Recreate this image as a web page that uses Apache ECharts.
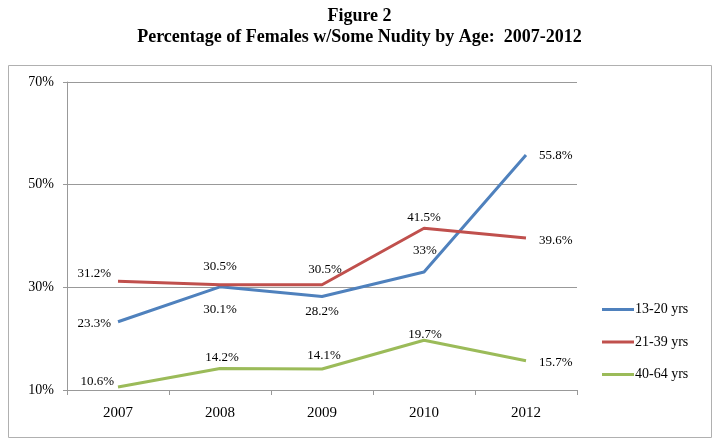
<!DOCTYPE html>
<html><head><meta charset="utf-8">
<script src="https://cdn.jsdelivr.net/npm/echarts@6/dist/echarts.min.js"></script>
<style>html,body{margin:0;padding:0;background:#fff}#c{width:719px;height:445px}</style>
</head><body><div id="c"></div>
<script>
const categories = ['2007','2008','2009','2010','2012'];
const seriesNames = ['13-20 yrs','21-39 yrs','40-64 yrs'];
const teens = [23.3, 30.1, 28.2, 33, 55.8];
const adults = [31.2, 30.5, 30.5, 41.5, 39.6];
const older = [10.6, 14.2, 14.1, 19.7, 15.7];
const yTicks = [10, 30, 50, 70];

const colors = ['#4F81BD', '#C0504D', '#9BBB59'];
// label placement per point (kept separate from data)
const placements = [
  [['left',[-2,2]],['bottom',[0,11]],['bottom',[0,4]],['top',[1,-10]],['right',[8,1]]],
  [['left',[-2,-8]],['top',[0,-7]],['top',[3,-4]],['top',[0,1]],['right',[8,3]]],
  [['left',[1,-5]],['top',[2,1]],['top',[2,-2]],['top',[1,6]],['right',[8,2]]]
];
const font = '"Liberation Serif", "Times New Roman", serif';

function build(vals, idx){
  return vals.map((v,i)=>({value:v, label:{position:placements[idx][i][0], offset:placements[idx][i][1]}}));
}
const all = [teens, adults, older];
const chart = echarts.init(document.getElementById('c'));
chart.setOption({
  animation:false,
  title:{
    text:'Figure 2',
    subtext:'Percentage of Females w/Some Nudity by Age:  2007-2012',
    left:'center', top:1, itemGap:0,
    textStyle:{fontFamily:font, fontWeight:'bold', fontSize:18, color:'#000', lineHeight:21},
    subtextStyle:{fontFamily:font, fontWeight:'bold', fontSize:18, color:'#000', lineHeight:20}
  },
  graphic:[{type:'rect', shape:{x:8.5,y:65.5,width:703,height:372}, style:{fill:'none', stroke:'#b0b0b0', lineWidth:1}, silent:true}],
  legend:{
    orient:'vertical', left:597, top:297, itemWidth:32, itemHeight:3, itemGap:17.5,
    icon:'rect',
    textStyle:{fontFamily:font, fontSize:14, color:'#000', lineHeight:15, padding:[0,0,0,-4]},
    data:seriesNames
  },
  grid:{left:67, right:142, top:82, bottom:55},
  xAxis:{
    type:'category', data:categories, boundaryGap:true,
    axisLine:{lineStyle:{color:'#999', width:1}},
    axisTick:{show:true, length:5, lineStyle:{color:'#999'}},
    axisLabel:{fontFamily:font, fontSize:15, color:'#000', margin:16}
  },
  yAxis:{
    type:'value', min:10, max:70, interval:20,
    axisLine:{show:true, lineStyle:{color:'#999'}},
    axisTick:{show:true, length:4, lineStyle:{color:'#999'}},
    splitLine:{lineStyle:{color:'#999', width:1}},
    axisLabel:{fontFamily:font, fontSize:14, color:'#000', margin:13, formatter:v=>v+'%'}
  },
  series: all.map((vals,k)=>({
    name:seriesNames[k], type:'line', data:build(vals,k),
    showSymbol:true, symbol:'circle', symbolSize:0, color:colors[k],
    lineStyle:{width:3, color:colors[k]},
    label:{show:true, fontFamily:font, fontSize:13, color:'#000', formatter:p=>p.value+'%'}
  }))
});
</script></body></html>
